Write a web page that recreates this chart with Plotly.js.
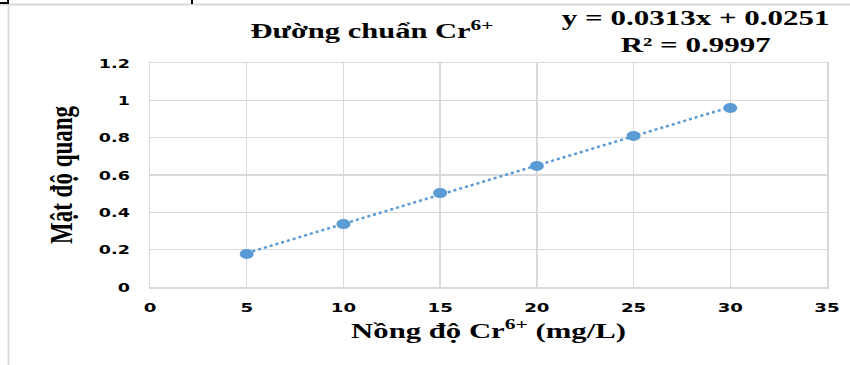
<!DOCTYPE html>
<html>
<head>
<meta charset="utf-8">
<script src="https://cdn.plot.ly/plotly-3.0.1.min.js"></script>
<style>html,body{margin:0;padding:0;background:#fff;}#chart{width:850px;height:365px;}</style>
</head>
<body>
<div id="chart"></div>
<script>
// Data
const concentration = [5, 10, 15, 20, 25, 30];
const absorbance = [0.177, 0.337, 0.503, 0.648, 0.809, 0.959];
const trendSlope = 0.0313;
const trendIntercept = 0.0251;
const trendLabel = 'y = 0.0313x + 0.0251<br>R² = 0.9997';
const xTicks = [0, 5, 10, 15, 20, 25, 30, 35];
const yTicks = [0, 0.2, 0.4, 0.6, 0.8, 1, 1.2];
const yTickText = ['0', '0.2', '0.4', '0.6', '0.8', '1', '1.2'];

const xFirst = concentration[0];
const xLast = concentration[concentration.length - 1];
const trendX = [xFirst, xLast];
const trendY = trendX.map(x => trendSlope * x + trendIntercept);

const blue = '#5b9bd5';
const serif = '"Liberation Serif", "Times New Roman", serif';
const sans = '"DejaVu Sans", Verdana, sans-serif';

const traces = [
  {x: trendX, y: trendY, type: 'scatter', mode: 'lines',
   line: {color: blue, width: 2.5, dash: 'dot'}, hoverinfo: 'skip'},
  {x: concentration, y: absorbance, type: 'scatter', mode: 'markers',
   marker: {color: blue, size: 10}}
];

const layout = {
  width: 850, height: 365,
  margin: {l: 150, r: 23, t: 63, b: 78},
  paper_bgcolor: '#fff', plot_bgcolor: '#fff',
  showlegend: false,
  xaxis: {
    range: [0, 35], tickvals: xTicks, ticktext: xTicks.map(String),
    showgrid: true, gridcolor: '#d9d9d9', gridwidth: 1.5,
    zeroline: false, showline: true, linecolor: '#d9d9d9', linewidth: 1.5, mirror: true,
    ticks: 'outside', ticklen: 8, tickcolor: 'rgba(0,0,0,0)',
    tickfont: {family: sans, size: 13, color: '#000', weight: 'bold'},
    title: {text: 'Nồng độ Cr<sup>6+</sup> (mg/L)', standoff: 9,
            font: {family: serif, size: 21, color: '#000', weight: 'bold'}}
  },
  yaxis: {
    range: [0, 1.2], tickvals: yTicks, ticktext: yTickText,
    showgrid: true, gridcolor: '#d9d9d9', gridwidth: 1.5,
    zeroline: false, showline: true, linecolor: '#d9d9d9', linewidth: 1.5, mirror: true,
    ticks: 'outside', ticklen: 16, tickcolor: 'rgba(0,0,0,0)',
    tickfont: {family: sans, size: 13, color: '#000', weight: 'bold'},
    title: {text: 'Mật độ quang', standoff: 30,
            font: {family: serif, size: 23, color: '#000', weight: 'bold'}}
  },
  title: {text: 'Đường chuẩn Cr<sup>6+</sup>', x: 372/850, xanchor: 'center', y: 1 - 31/365, yanchor: 'middle',
          font: {family: serif, size: 20, color: '#000', weight: 'bold'}},
  annotations: [
    {text: trendLabel, xref: 'paper', yref: 'paper', x: (695 - 150) / 677, y: 1 + (63 - 32) / 224,
     xanchor: 'center', yanchor: 'middle', showarrow: false, align: 'center',
     font: {family: serif, size: 21, color: '#000', weight: 'bold'}}
  ],
  shapes: [
    {type: 'line', xref: 'paper', yref: 'paper', x0: -150/677, x1: (850-150)/677, y0: 1 + (63-4.5)/224, y1: 1 + (63-4.5)/224,
     line: {color: '#d9d9d9', width: 2}},
    {type: 'line', xref: 'paper', yref: 'paper', x0: (8.5-150)/677, x1: (8.5-150)/677, y0: 1 + (63-4)/224, y1: -78/224,
     line: {color: '#d9d9d9', width: 2}},
    {type: 'line', xref: 'paper', yref: 'paper', x0: -150/677, x1: (8-150)/677, y0: 1 + (63-3)/224, y1: 1 + (63-3)/224,
     line: {color: '#000', width: 2}},
    {type: 'line', xref: 'paper', yref: 'paper', x0: (8-150)/677, x1: (8-150)/677, y0: 1 + 63/224, y1: 1 + (63-4)/224,
     line: {color: '#000', width: 2}},
    {type: 'line', xref: 'paper', yref: 'paper', x0: (192-150)/677, x1: (192-150)/677, y0: 1 + 63/224, y1: 1 + (63-4)/224,
     line: {color: '#000', width: 2}}
  ]
};

// The reference renders text and markers widened horizontally; reproduce that look.
function stretchText(el, s, pivot) {
  const bb = el.getBBox();
  const px = (pivot !== undefined && !isNaN(pivot)) ? pivot : bb.x + bb.width / 2;
  const t = el.getAttribute('transform') || '';
  el.setAttribute('transform', t + ' translate(' + px + ',0) scale(' + s + ',1) translate(' + (-px) + ',0)');
}
function fitWidth(el, target) {
  if (!el) return;
  const bb = el.getBBox();
  if (bb.width > 0) stretchText(el, target / bb.width);
}
function stretchScreenX(el, s) {
  if (!el) return;
  const svgRect = el.ownerSVGElement.getBoundingClientRect();
  const r = el.getBoundingClientRect();
  const cx = r.left - svgRect.left + r.width / 2;
  const t = el.getAttribute('transform') || '';
  el.setAttribute('transform', 'translate(' + cx + ',0) scale(' + s + ',1) translate(' + (-cx) + ',0) ' + t);
}

Plotly.newPlot('chart', traces, layout, {displayModeBar: false, staticPlot: true}).then(gd => {
  fitWidth(gd.querySelector('.gtitle'), 243);
  fitWidth(gd.querySelector('.annotation-text'), 268);
  fitWidth(gd.querySelector('.xtitle'), 275);
  stretchScreenX(gd.querySelector('.ytitle'), 1.35);
  gd.querySelectorAll('.xtick text').forEach(el => stretchText(el, 1.4));
  gd.querySelectorAll('.ytick text').forEach(el => stretchText(el, 1.35, parseFloat(el.getAttribute('x'))));
  gd.querySelectorAll('.scatterlayer path.point').forEach(p => {
    p.setAttribute('transform', (p.getAttribute('transform') || '') + ' scale(1.4,1)');
  });
});
</script>
</body>
</html>
